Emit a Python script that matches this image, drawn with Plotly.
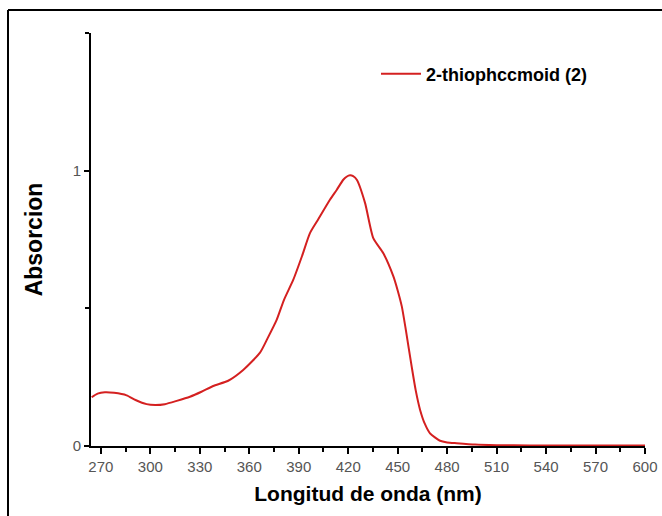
import plotly.graph_objects as go

wavelength = [264.4, 268, 272.4, 278, 285.6, 291, 297.7, 303, 308.8, 316, 324, 331, 338.1, 347.2,
              356.3, 366.5, 371, 376.6, 381, 386.7, 392, 396.8, 402, 409, 413, 417, 419, 421.1, 423,
              425.2, 430.2, 435.2, 441.3, 447.4, 450, 452.5, 455, 458.5, 461, 463.6, 466.5, 469.6,
              475.7, 480, 485.8, 497, 510, 530, 560, 600]
absorbance = [0.177, 0.19, 0.195, 0.193, 0.184, 0.167, 0.152, 0.149, 0.152, 0.164, 0.179, 0.197,
              0.218, 0.237, 0.276, 0.339, 0.39, 0.458, 0.53, 0.604, 0.69, 0.773, 0.825, 0.895,
              0.93, 0.967, 0.978, 0.983, 0.98, 0.967, 0.883, 0.755, 0.70, 0.616, 0.565, 0.507,
              0.42, 0.288, 0.2, 0.131, 0.08, 0.046, 0.019, 0.013, 0.010, 0.005, 0.003, 0.002,
              0.002, 0.002]
series_name = "2-thiophccmoid (2)"
x_ticks = [270, 300, 330, 360, 390, 420, 450, 480, 510, 540, 570, 600]
y_ticks = [0, 1]

ML, MR, MT, MB = 91, 17, 33, 70
W, H = 662, 516
PW, PH = W - ML - MR, H - MT - MB

fig = go.Figure()
fig.add_trace(go.Scatter(x=wavelength, y=absorbance, mode="lines", name=series_name,
                         line=dict(color="#d42020", width=2, shape="spline", smoothing=0.6)))

fig.update_layout(
    width=W, height=H,
    margin=dict(l=ML, r=MR, t=MT, b=MB),
    paper_bgcolor="white", plot_bgcolor="white",
    font=dict(family="Liberation Sans, Arial, sans-serif"),
    showlegend=True,
    legend=dict(x=(376 - ML) / PW, y=(H - MB - 74) / PH, xanchor="left", yanchor="middle",
                bgcolor="rgba(0,0,0,0)",
                font=dict(size=18, color="black", family="Liberation Sans, Arial, sans-serif", weight="bold"),
                itemwidth=40),
    xaxis=dict(range=[264, 600], tickvals=x_ticks, ticks="outside", ticklen=6, tickwidth=1.5,
               tickcolor="black", showline=True, linecolor="black", linewidth=2,
               showgrid=False, zeroline=False, automargin=False,
               tickfont=dict(size=15, color="#555555"),
               minor=dict(dtick=15, tick0=255, ticks="outside", ticklen=4, tickcolor="black", tickwidth=1.5),
               title=dict(text="<b>Longitud de onda (nm)</b>", font=dict(size=21, color="black"), standoff=12)),
    yaxis=dict(range=[0, 1.5], tickvals=y_ticks, ticks="outside", ticklen=5, tickwidth=1.5,
               tickcolor="black", showline=True, linecolor="black", linewidth=2,
               showgrid=False, zeroline=False, automargin=False,
               tickfont=dict(size=15, color="#555555"),
               minor=dict(dtick=0.5, tick0=0, ticks="outside", ticklen=4, tickcolor="black", tickwidth=1.5),
               title=dict(text="<b>Absorcion</b>", font=dict(size=23, color="black"), standoff=24)),
)

# outer frame (only top and left edges are visible in the picture)
fx0 = (8 - ML) / PW
fx1 = (W - ML) / PW
fy0 = -(MB) / PH
fy1 = (H - MB - 10) / PH
fig.add_shape(type="line", xref="paper", yref="paper", x0=fx0, x1=fx1, y0=fy1, y1=fy1,
              line=dict(color="black", width=2))
fig.add_shape(type="line", xref="paper", yref="paper", x0=fx0, x1=fx0, y0=fy0, y1=fy1,
              line=dict(color="black", width=2))

fig.write_html("out.html")
